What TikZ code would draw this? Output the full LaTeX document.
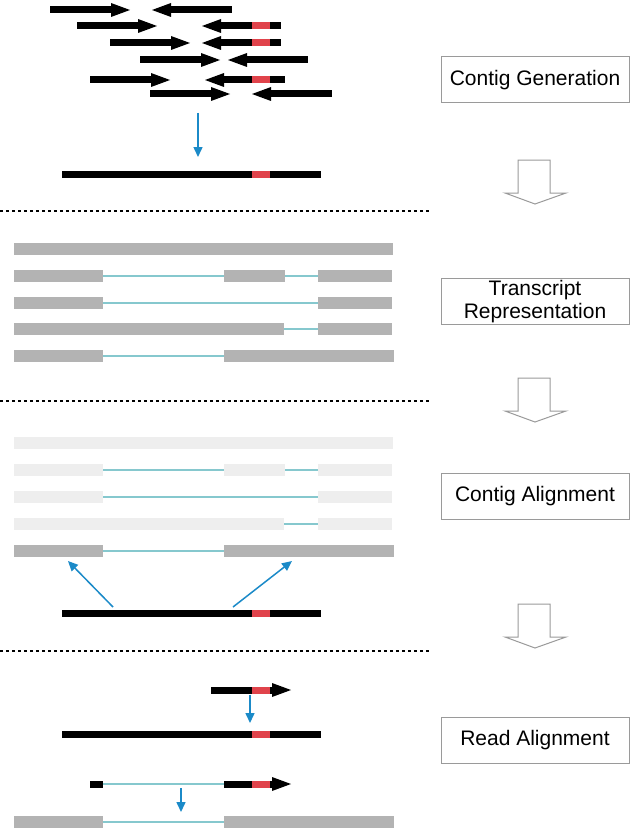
\documentclass[tikz,border=0pt]{standalone}
\usepackage{fontspec}
\setmainfont{Liberation Sans}
\usetikzlibrary{arrows.meta}

\definecolor{exongray}{HTML}{B3B3B3}
\definecolor{fadegray}{HTML}{EEEEEE}
\definecolor{introncol}{HTML}{86C8CE}
\definecolor{snpred}{HTML}{E0434B}
\definecolor{mapblue}{HTML}{1B8AC8}
\definecolor{boxgray}{HTML}{9A9A9A}

% reads: forward (start, tip, y) and reverse (tip, end, y)
\newcommand{\fwdread}[3]{%
	\fill (#1,#3-3.5) rectangle (#2-19,#3+3.5);
	\fill (#2-19,#3-7) -- (#2,#3) -- (#2-19,#3+7) -- cycle;}
\newcommand{\revread}[3]{%
	\fill (#1+19,#3-3.5) rectangle (#2,#3+3.5);
	\fill (#1+19,#3-7) -- (#1,#3) -- (#1+19,#3+7) -- cycle;}
\newcommand{\snp}[1]{\fill[snpred] (252,#1-3.5) rectangle (270,#1+3.5);}
\newcommand{\contig}[1]{\fill (62,#1-3.5) rectangle (321,#1+3.5); \snp{#1}}
\newcommand{\exon}[4][exongray]{\fill[#1] (#2,#4-6) rectangle (#3,#4+6);}
\newcommand{\intron}[3]{\draw[introncol, line width=1.5pt] (#1,#3) -- (#2,#3);}
\newcommand{\stagearrow}[1]{%
	\draw[boxgray, line width=1pt, fill=white, line join=miter]
		(518,#1) -- (550,#1) -- (550,#1+33) -- (566,#1+33) -- (535,#1+44)
		-- (505,#1+33) -- (518,#1+33) -- cycle;}

\begin{document}
\begin{tikzpicture}[x=1pt,y=-1pt,
	stagebox/.style={draw=boxgray, line width=1pt, minimum width=188pt, minimum height=46pt,
		inner sep=0pt, align=center, font=\fontsize{21}{23}\selectfont},
	maparrow/.style={mapblue, line width=1.5pt, -{Triangle[length=10pt,width=9pt]}},
	divider/.style={black, line width=1.2pt, dash pattern=on 3pt off 3pt}]
	\useasboundingbox (0,0) rectangle (633,832);

	% contig generation
	\fwdread{50}{130}{10}	\revread{152}{232}{10}
	\fwdread{77}{157}{26}	\revread{202}{281}{26}	\snp{26}
	\fwdread{110}{190}{43}	\revread{202}{281}{43}	\snp{43}
	\fwdread{140}{220}{60}	\revread{228}{308}{60}
	\fwdread{90}{170}{80}	\revread{205}{285}{80}	\snp{80}
	\fwdread{150}{230}{94}	\revread{252}{332}{94}
	\coordinate (asm top) at (198,113);
	\coordinate (asm bot) at (198,157);
	\draw[maparrow] (asm top) -- (asm bot);
	\contig{174}

	\coordinate (cut1 l) at (0,211);
	\coordinate (cut1 r) at (430,211);
	\draw[divider] (cut1 l) -- (cut1 r);

	% transcript representation
	\exon{14}{393}{249}
	\exon{14}{103}{276}	\intron{103}{224}{276}	\exon{224}{285}{276}	\intron{285}{318}{276}	\exon{318}{392}{276}
	\exon{14}{103}{303}	\intron{103}{318}{303}	\exon{318}{392}{303}
	\exon{14}{284}{329}	\intron{284}{318}{329}	\exon{318}{392}{329}
	\exon{14}{103}{356}	\intron{103}{224}{356}	\exon{224}{394}{356}

	\coordinate (cut2 l) at (0,401);
	\coordinate (cut2 r) at (430,401);
	\draw[divider] (cut2 l) -- (cut2 r);

	% contig alignment
	\exon[fadegray]{14}{393}{443}
	\exon[fadegray]{14}{103}{470}	\intron{103}{224}{470}	\exon[fadegray]{224}{285}{470}	\intron{285}{318}{470}	\exon[fadegray]{318}{392}{470}
	\exon[fadegray]{14}{103}{497}	\intron{103}{318}{497}	\exon[fadegray]{318}{392}{497}
	\exon[fadegray]{14}{284}{524}	\intron{284}{318}{524}	\exon[fadegray]{318}{392}{524}
	\exon{14}{103}{551}	\intron{103}{224}{551}	\exon{224}{394}{551}
	\coordinate (hit l from) at (113,607);
	\coordinate (hit l to) at (68,561);
	\coordinate (hit r from) at (233,607);
	\coordinate (hit r to) at (292,561);
	\draw[maparrow] (hit l from) -- (hit l to);
	\draw[maparrow] (hit r from) -- (hit r to);
	\contig{613}

	\coordinate (cut3 l) at (0,651);
	\coordinate (cut3 r) at (430,651);
	\draw[divider] (cut3 l) -- (cut3 r);

	% read alignment
	\fwdread{211}{291}{690}	\snp{690}
	\coordinate (rd top) at (250,695);
	\coordinate (rd bot) at (250,723);
	\draw[maparrow] (rd top) -- (rd bot);
	\contig{734}
	\fill (90,784-3.5) rectangle (103,784+3.5);
	\intron{103}{224}{784}
	\fwdread{224}{291}{784}	\snp{784}
	\coordinate (sp top) at (181,788);
	\coordinate (sp bot) at (181,812);
	\draw[maparrow] (sp top) -- (sp bot);
	\exon{14}{103}{822}	\intron{103}{224}{822}	\exon{224}{394}{822}

	% stages
	\node (gen) at (535,80)		[stagebox]	{Contig Generation};
	\node (rep) at (535,301.5)	[stagebox]	{Transcript\\Representation};
	\node (aln) at (535,496)	[stagebox]	{Contig Alignment};
	\node (rds) at (535,740)	[stagebox]	{Read Alignment};
	\stagearrow{160}
	\stagearrow{378}
	\stagearrow{604}
\end{tikzpicture}
\end{document}
